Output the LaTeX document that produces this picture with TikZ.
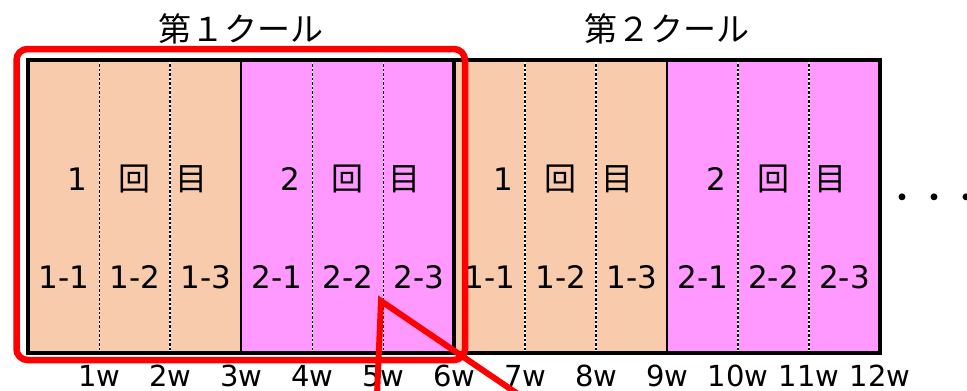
\documentclass[tikz,border=0pt]{standalone}
\usepackage{fontspec}
\setmainfont{DejaVu Sans}
\newfontfamily\jpfont{Noto Sans CJK JP}
\definecolor{peachc}{HTML}{F8CBAD}
\definecolor{pinkc}{HTML}{FF99FF}
\definecolor{redc}{HTML}{FF0000}
\begin{document}
\begin{tikzpicture}[x=1pt,y=-1pt,
  rowlbl/.style={font=\fontsize{31}{31}\selectfont, inner sep=0pt},
  wklbl/.style={font=\fontsize{29}{29}\selectfont, inner sep=0pt},
  jplbl/.style={font=\jpfont\fontsize{32}{32}\selectfont, inner sep=0pt},
  title/.style={font=\jpfont\fontsize{33}{33}\selectfont, inner sep=0pt},
  dotdiv/.style={black, dash pattern=on 2.5pt off 2pt},
  whitediv/.style={white},
  redline/.style={draw=redc, line width=6.5pt}]
\useasboundingbox (0,0) rectangle (967,391);
\def\xl{28.4}
\def\cw{70.97}
\def\yt{59.5}
\def\yb{353}
% column fills
\foreach \i in {0,...,11} {
  \pgfmathsetmacro\xa{\xl+\i*\cw}
  \pgfmathsetmacro\xb{\xl+(\i+1)*\cw}
  \pgfmathtruncatemacro\s{mod(int(\i/3),2)}
  \ifnum\s=0 \def\colname{peachc}\else\def\colname{pinkc}\fi
  \fill[\colname] (\xa,\yt) rectangle (\xb,\yb);
}
% thin dotted dividers
\foreach \k in {1,4,5} {
  \pgfmathsetmacro\xx{\xl+\k*\cw}
  \draw[whitediv, line width=1.2pt] (\xx,\yt) -- (\xx,\yb);
  \draw[dotdiv, line width=1pt] (\xx,\yt) -- (\xx,\yb);
}
% thicker dotted dividers
\foreach \k in {2,7,8,10,11} {
  \pgfmathsetmacro\xx{\xl+\k*\cw}
  \draw[whitediv, line width=1.8pt] (\xx,\yt) -- (\xx,\yb);
  \draw[dotdiv, line width=1.8pt] (\xx,\yt) -- (\xx,\yb);
}
% solid session dividers
\foreach \k in {3,9} {
  \pgfmathsetmacro\xx{\xl+\k*\cw}
  \draw[black, line width=1.8pt] (\xx,\yt) -- (\xx,\yb);
}
% cool divider
\pgfmathsetmacro\xm{\xl+6*\cw}
\draw[black, line width=3.6pt] (\xm,\yt) -- (\xm,\yb);
% outer frame
\draw[black, line width=4pt] (\xl,\yt) rectangle (880,\yb);
% row labels
\foreach \i/\t in {0/1-1,1/1-2,2/1-3,3/2-1,4/2-2,5/2-3,6/1-1,7/1-2,8/1-3,9/2-1,10/2-2,11/2-3} {
  \pgfmathsetmacro\xx{\xl+(\i+0.5)*\cw}
  \node[rowlbl] (r\i) at (\xx,277) {\t};
}
% session labels
\foreach \m/\d in {1/1,4/2,7/1,10/2} {
  \pgfmathsetmacro\xx{\xl+(\m+0.5)*\cw}
  \node[rowlbl] (sd\m) at (\xx-57,179) {\d};
  \node[jplbl] (sk\m) at (\xx,179) {回};
  \node[jplbl] (sm\m) at (\xx+57,179) {目};
}
% week labels
\foreach \k in {1,...,12} {
  \pgfmathsetmacro\xx{\xl+\k*\cw}
  \node[wklbl] (w\k) at (\xx,376) {\k w};
}
% titles
\node[title] (t1) at (241.3,29) {第１クール};
\node[title] (t2) at (667.1,29) {第２クール};
% dots
\node[jplbl] (dots) at (934,202) {・・・};
% red highlight
\draw[redline, rounded corners=11pt] (16.5,49) rectangle (465,360);
% pointer
\begin{scope}
  \clip (0,0) rectangle (967,391);
  \coordinate (pa) at (376.6,405);
  \coordinate (pt) at (381,301);
  \coordinate (pb) at (534,405);
  \draw[draw=redc, line width=6pt, line join=miter] (pa) -- (pt) -- (pb);
\end{scope}
\end{tikzpicture}
\end{document}
